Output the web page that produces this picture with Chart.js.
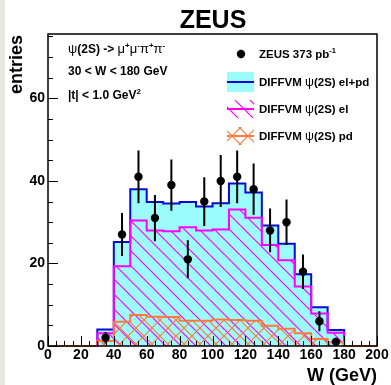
<!DOCTYPE html>
<html>
<head>
<meta charset="utf-8">
<script src="https://cdn.jsdelivr.net/npm/chart.js@4.4.1/dist/chart.umd.min.js"></script>
<style>
  body { margin: 0; background: #fff; }
  #wrap { position: relative; width: 391px; height: 385px; }
</style>
</head>
<body>
<div id="wrap"><canvas id="zeus" width="391" height="385"></canvas></div>
<script>
// W bins (GeV), lower edges, 10 GeV wide
const wBinLow = [0,10,20,30,40,50,60,70,80,90,100,110,120,130,140,150,160,170,180,190];
const wMax = 200;
// DIFFVM psi(2S) expectations per bin
const mcElPd = [0,0,0,4.0,25.2,38.0,34.9,34.5,34.9,33.8,34.6,39.4,37.2,29.2,24.8,17.4,9.4,3.9,0,0];
const mcEl   = [0,0,0,3.1,19.3,30.4,28.0,27.8,28.8,28.0,28.2,33.1,31.1,24.5,20.8,14.4,7.9,3.2,0,0];
const mcPd   = [0,0,0,1.2,5.9,7.5,7.1,7.0,6.1,6.1,6.4,6.3,6.1,4.9,4.2,3.1,1.7,0.9,0,0];
// ZEUS data points
const wCenter = [35,45,55,65,75,85,95,105,115,125,135,145,155,165,175];
const entries = [2,27,41,31,39,21,35,40,41,38,28,30,18,6,1];
const entErr  = [1.4,5.2,6.4,5.6,6.2,4.6,5.9,6.3,6.4,6.2,5.3,5.5,4.2,2.4,1.0];
// axis ticks
const xTicks = [0,20,40,60,80,100,120,140,160,180,200];
const yTicks = [0,20,40,60];
const yMax = 75.6;

const FONT = '"Liberation Sans", Arial, sans-serif';

function hatch(color, dirs, size) {
    const c = document.createElement("canvas");
    c.width = size; c.height = size;
    const g = c.getContext("2d");
    g.strokeStyle = color;
    g.lineWidth = 1.2;
    for (const d of dirs) {
        for (const k of [-1, 0, 1]) {
            g.beginPath();
            if (d === "\\") { g.moveTo(k * size, 0); g.lineTo(k * size + size, size); }
            else { g.moveTo(k * size, size); g.lineTo(k * size + size, 0); }
            g.stroke();
        }
    }
    return g.createPattern(c, "repeat");
}

const magHatch = hatch("#ff00ff", ["\\"], 15);
const orHatch = hatch("#ff7a3c", ["\\", "/"], 16);

function histPoints(vals) {
    const pts = wBinLow.map((x, i) => ({x: x, y: vals[i]}));
    pts.push({x: wMax, y: vals[vals.length - 1]});
    return pts;
}

const errPts = [];
wCenter.forEach((w, i) => {
    errPts.push({x: w, y: entries[i] - entErr[i]});
    errPts.push({x: w, y: entries[i] + entErr[i]});
    errPts.push({x: w, y: null});
});

function rich(ctx, x, y, parts) {
    for (const p of parts) {
        ctx.font = p.f;
        ctx.fillText(p.t, x, y + (p.dy || 0));
        x += ctx.measureText(p.t).width;
    }
}

const decor = {
    id: "decor",
    beforeDraw(chart) {
        const ctx = chart.ctx;
        ctx.save();
        ctx.fillStyle = "#e3e8e1";
        ctx.fillRect(0, 0, 5, chart.height);
        ctx.restore();
    },
    afterDatasetsDraw(chart) {
        const ctx = chart.ctx;
        const a = chart.chartArea;
        const xs = chart.scales.x, ys = chart.scales.y;
        ctx.save();
        ctx.strokeStyle = "#000";
        ctx.lineWidth = 1;
        // tick marks, inside the frame
        for (let v = 0; v <= wMax; v += 5) {
            const px = Math.round(xs.getPixelForValue(v)) + 0.5;
            const len = v % 20 === 0 ? 10 : 5;
            ctx.beginPath(); ctx.moveTo(px, a.bottom); ctx.lineTo(px, a.bottom - len); ctx.stroke();
        }
        for (let v = 0; v <= yMax; v += 5) {
            const py = Math.round(ys.getPixelForValue(v)) + 0.5;
            const len = v % 20 === 0 ? 10 : 5;
            ctx.beginPath(); ctx.moveTo(a.left, py); ctx.lineTo(a.left + len, py); ctx.stroke();
        }
        ctx.lineWidth = 1.5;
        ctx.strokeRect(a.left, a.top, a.right - a.left, a.bottom - a.top);
        ctx.restore();
    },
    afterDraw(chart) {
        const ctx = chart.ctx;
        ctx.save();
        ctx.fillStyle = "#000";
        ctx.textBaseline = "alphabetic";
        // title
        ctx.font = "bold 25px " + FONT;
        ctx.textAlign = "center";
        ctx.fillText("ZEUS", 213, 28);
        // axis titles
        ctx.font = "bold 18px " + FONT;
        ctx.textAlign = "right";
        ctx.fillText("W (GeV)", 377, 381);
        ctx.save();
        ctx.translate(22, 35);
        ctx.rotate(-Math.PI / 2);
        ctx.fillText("entries", 0, 0);
        ctx.restore();

        ctx.textAlign = "left";
        const B = "bold 12px " + FONT, G = "13px " + FONT, S = "bold 8px " + FONT;
        rich(ctx, 68, 53, [
            {t: "\u03c8", f: G}, {t: "(2S) -> ", f: B},
            {t: "\u03bc", f: G}, {t: "+", f: S, dy: -5},
            {t: "\u03bc", f: G}, {t: "-", f: S, dy: -5},
            {t: "\u03c0", f: G}, {t: "+", f: S, dy: -5},
            {t: "\u03c0", f: G}, {t: "-", f: S, dy: -5}
        ]);
        rich(ctx, 68, 75, [{t: "30 < W < 180 GeV", f: B}]);
        rich(ctx, 68, 99, [{t: "|t| < 1.0 GeV", f: B}, {t: "2", f: S, dy: -5}]);

        // legend
        const L = "bold 11.5px " + FONT, LG = "12.5px " + FONT, LS = "bold 7.5px " + FONT;
        ctx.beginPath(); ctx.arc(241, 54, 4.2, 0, Math.PI * 2); ctx.fill();
        rich(ctx, 259, 58, [{t: "ZEUS 373 pb", f: L}, {t: "-1", f: LS, dy: -5}]);

        ctx.fillStyle = "#9cfcfc";
        ctx.fillRect(227, 72, 27, 20);
        ctx.strokeStyle = "#0a0ad2"; ctx.lineWidth = 2;
        ctx.beginPath(); ctx.moveTo(227, 82); ctx.lineTo(254, 82); ctx.stroke();

        ctx.save();
        ctx.beginPath(); ctx.rect(227, 100, 27, 18); ctx.clip();
        ctx.fillStyle = magHatch; ctx.fillRect(227, 100, 27, 18);
        ctx.restore();
        ctx.strokeStyle = "#ff00ff";
        ctx.beginPath(); ctx.moveTo(227, 109); ctx.lineTo(254, 109); ctx.stroke();

        ctx.save();
        ctx.beginPath(); ctx.rect(227, 127, 27, 18); ctx.clip();
        ctx.fillStyle = orHatch; ctx.fillRect(227, 127, 27, 18);
        ctx.restore();
        ctx.strokeStyle = "#ff7a3c";
        ctx.beginPath(); ctx.moveTo(227, 136); ctx.lineTo(254, 136); ctx.stroke();

        ctx.fillStyle = "#000";
        rich(ctx, 259, 86, [{t: "DIFFVM ", f: L}, {t: "\u03c8", f: LG}, {t: "(2S) el+pd", f: L}]);
        rich(ctx, 259, 113, [{t: "DIFFVM ", f: L}, {t: "\u03c8", f: LG}, {t: "(2S) el", f: L}]);
        rich(ctx, 259, 140, [{t: "DIFFVM ", f: L}, {t: "\u03c8", f: LG}, {t: "(2S) pd", f: L}]);
        ctx.restore();
    }
};

const chart = new Chart(document.getElementById("zeus"), {
    type: "line",
    data: {
        datasets: [
            {
                label: "DIFFVM psi(2S) el+pd",
                data: histPoints(mcElPd),
                stepped: "before",
                borderColor: "#0a0ad2",
                borderWidth: 2,
                backgroundColor: "#9cfcfc",
                fill: "origin",
                pointRadius: 0,
                clip: false,
                order: 4
            }, {
                label: "DIFFVM psi(2S) el",
                data: histPoints(mcEl),
                stepped: "before",
                borderColor: "#ff00ff",
                borderWidth: 2,
                backgroundColor: magHatch,
                fill: "origin",
                pointRadius: 0,
                clip: false,
                order: 3
            }, {
                label: "DIFFVM psi(2S) pd",
                data: histPoints(mcPd),
                stepped: "before",
                borderColor: "#ff7a3c",
                borderWidth: 2,
                backgroundColor: orHatch,
                fill: "origin",
                pointRadius: 0,
                clip: false,
                order: 2
            }, {
                label: "errors",
                data: errPts,
                borderColor: "#000",
                borderWidth: 2,
                spanGaps: false,
                pointRadius: 0,
                fill: false,
                clip: false,
                order: 1
            }, {
                label: "ZEUS 373 pb-1",
                data: wCenter.map((w, i) => ({x: w, y: entries[i]})),
                showLine: false,
                pointRadius: 4.2,
                pointBackgroundColor: "#000",
                pointBorderWidth: 0,
                clip: false,
                order: 0
            }
        ]
    },
    options: {
        responsive: false,
        devicePixelRatio: 1,
        animation: false,
        layout: { padding: { left: 0, top: 34, right: 14, bottom: 0 } },
        plugins: {
            legend: { display: false },
            tooltip: { enabled: false },
            title: { display: false }
        },
        scales: {
            x: {
                type: "linear",
                min: 0,
                max: wMax,
                afterBuildTicks: (s) => { s.ticks = xTicks.map(v => ({value: v})); },
                afterFit: (s) => { s.height = 39; },
                grid: { display: false, drawTicks: false },
                border: { display: false },
                ticks: {
                    padding: 1,
                    maxRotation: 0,
                    autoSkip: false,
                    color: "#000",
                    font: { family: FONT, size: 14, weight: "bold" }
                }
            },
            y: {
                type: "linear",
                min: 0,
                max: yMax,
                afterBuildTicks: (s) => { s.ticks = yTicks.map(v => ({value: v})); },
                afterFit: (s) => { s.width = 48; },
                grid: { display: false, drawTicks: false },
                border: { display: false },
                ticks: {
                    padding: 3,
                    color: "#000",
                    font: { family: FONT, size: 14, weight: "bold" }
                }
            }
        }
    },
    plugins: [decor]
});
</script>
</body>
</html>
